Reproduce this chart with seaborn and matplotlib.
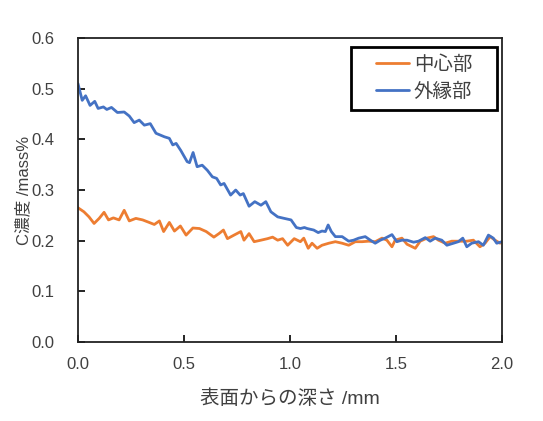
import pandas as pd
import matplotlib
matplotlib.use("Agg")
import matplotlib.pyplot as plt
from matplotlib.patches import Rectangle
import seaborn as sns

# depth (mm) and carbon concentration (mass%)
center_depth = [0.0, 0.028, 0.052, 0.076, 0.10, 0.123, 0.144, 0.167, 0.194, 0.218,
                0.242, 0.273, 0.305, 0.336, 0.360, 0.384, 0.404, 0.431, 0.455, 0.483,
                0.51, 0.542, 0.573, 0.605, 0.641, 0.665, 0.686, 0.705, 0.736, 0.768,
                0.783, 0.807, 0.831, 0.863, 0.894, 0.918, 0.942, 0.965, 0.989, 1.020,
                1.049, 1.065, 1.086, 1.104, 1.128, 1.151, 1.183, 1.214, 1.246, 1.277,
                1.308, 1.34, 1.371, 1.402, 1.434, 1.457, 1.481, 1.496, 1.528, 1.552,
                1.591, 1.614, 1.646, 1.677, 1.70, 1.732, 1.763, 1.802, 1.834, 1.865,
                1.896, 1.92, 1.944, 1.967, 1.991]
center_conc = [0.265, 0.257, 0.247, 0.234, 0.244, 0.256, 0.241, 0.245, 0.241, 0.260,
               0.239, 0.244, 0.241, 0.236, 0.232, 0.239, 0.218, 0.236, 0.219, 0.229,
               0.211, 0.225, 0.224, 0.218, 0.207, 0.214, 0.221, 0.204, 0.211, 0.218,
               0.201, 0.214, 0.198, 0.201, 0.204, 0.207, 0.201, 0.204, 0.191, 0.204,
               0.198, 0.205, 0.185, 0.195, 0.185, 0.191, 0.195, 0.198, 0.195, 0.191,
               0.198, 0.198, 0.199, 0.198, 0.205, 0.201, 0.188, 0.201, 0.205, 0.193,
               0.185, 0.199, 0.205, 0.208, 0.201, 0.195, 0.199, 0.199, 0.199, 0.201,
               0.188, 0.195, 0.208, 0.201, 0.195]

edge_depth = [0.0, 0.02, 0.036, 0.057, 0.079, 0.095, 0.12, 0.136, 0.158, 0.186,
              0.218, 0.242, 0.265, 0.289, 0.313, 0.341, 0.368, 0.408, 0.431, 0.447,
              0.463, 0.485, 0.515, 0.526, 0.543, 0.562, 0.586, 0.610, 0.634, 0.654,
              0.673, 0.689, 0.720, 0.744, 0.765, 0.780, 0.807, 0.834, 0.863, 0.886,
              0.910, 0.942, 0.973, 1.005, 1.030, 1.049, 1.068, 1.081, 1.112, 1.133,
              1.151, 1.167, 1.18, 1.195, 1.214, 1.246, 1.277, 1.30, 1.324, 1.355,
              1.379, 1.402, 1.426, 1.449, 1.481, 1.504, 1.528, 1.552, 1.583, 1.606,
              1.638, 1.661, 1.685, 1.716, 1.74, 1.771, 1.794, 1.815, 1.834, 1.857,
              1.889, 1.912, 1.936, 1.959, 1.975, 2.0]
edge_conc = [0.510, 0.477, 0.486, 0.467, 0.475, 0.461, 0.464, 0.459, 0.463, 0.453,
             0.454, 0.446, 0.433, 0.438, 0.428, 0.431, 0.412, 0.405, 0.402, 0.389,
             0.392, 0.378, 0.356, 0.354, 0.374, 0.346, 0.349, 0.339, 0.326, 0.323,
             0.310, 0.313, 0.290, 0.300, 0.290, 0.293, 0.268, 0.277, 0.270, 0.277,
             0.257, 0.247, 0.244, 0.241, 0.226, 0.224, 0.226, 0.224, 0.221, 0.216,
             0.219, 0.218, 0.231, 0.218, 0.208, 0.208, 0.199, 0.201, 0.205, 0.208,
             0.201, 0.195, 0.201, 0.205, 0.212, 0.198, 0.201, 0.201, 0.197, 0.199,
             0.206, 0.199, 0.205, 0.201, 0.191, 0.195, 0.198, 0.205, 0.188, 0.195,
             0.198, 0.191, 0.211, 0.205, 0.195, 0.198]

series_names = ["中心部", "外縁部"]
series_colors = ["#ED7D31", "#4472C4"]

df = pd.concat([
    pd.DataFrame({"depth": center_depth, "conc": center_conc, "pos": series_names[0]}),
    pd.DataFrame({"depth": edge_depth, "conc": edge_conc, "pos": series_names[1]}),
])

sns.set_style("ticks")
plt.rcParams["font.family"] = ["Liberation Sans", "Noto Sans CJK JP", "DejaVu Sans"]
text_color = "#404040"

fig = plt.figure(figsize=(5.43, 4.21), dpi=100)
ax = fig.add_axes([0.1436, 0.1876, 0.7809, 0.7221])

sns.lineplot(data=df, x="depth", y="conc", hue="pos", palette=series_colors,
             hue_order=series_names, linewidth=2.0, ax=ax, sort=False)

ax.set_xlim(0, 2.0)
ax.set_ylim(0, 0.6)
ax.set_xticks([0.0, 0.5, 1.0, 1.5, 2.0])
ax.set_yticks([0.0, 0.1, 0.2, 0.3, 0.4, 0.5, 0.6])
ax.xaxis.set_major_formatter(matplotlib.ticker.FormatStrFormatter("%.1f"))
ax.yaxis.set_major_formatter(matplotlib.ticker.FormatStrFormatter("%.1f"))
ax.tick_params(direction="in", length=5, width=1.2, color="black",
               labelsize=12, labelcolor=text_color)
ax.tick_params(axis="x", pad=11)
ax.tick_params(axis="y", pad=17)
for s in ax.spines.values():
    s.set_visible(True)
    s.set_linewidth(1.3)
    s.set_color("#222222")

ax.set_xlabel("表面からの深さ /mm", fontsize=14, color=text_color, labelpad=12)
ax.set_ylabel("C濃度 /mass%", fontsize=12, color=text_color, labelpad=0)

leg = ax.legend(loc="upper right", bbox_to_anchor=(0.967, 0.993), fontsize=14,
                frameon=False, handlelength=1.7, labelspacing=0.45,
                handletextpad=0.25, borderpad=0.3)
for t in leg.get_texts():
    t.set_color(text_color)

# legend frame with wider side padding, like the original
fig.canvas.draw()
bb = leg.get_window_extent().transformed(fig.transFigure.inverted())
padx = 19 / 543
pady = 3 / 421
fig.patches.append(Rectangle((bb.x0 - padx, bb.y0 - pady), bb.width + 2 * padx,
                             bb.height + 2 * pady, transform=fig.transFigure,
                             fill=False, edgecolor="black", linewidth=2.0, zorder=10))

fig.savefig("out.png", dpi=100)
